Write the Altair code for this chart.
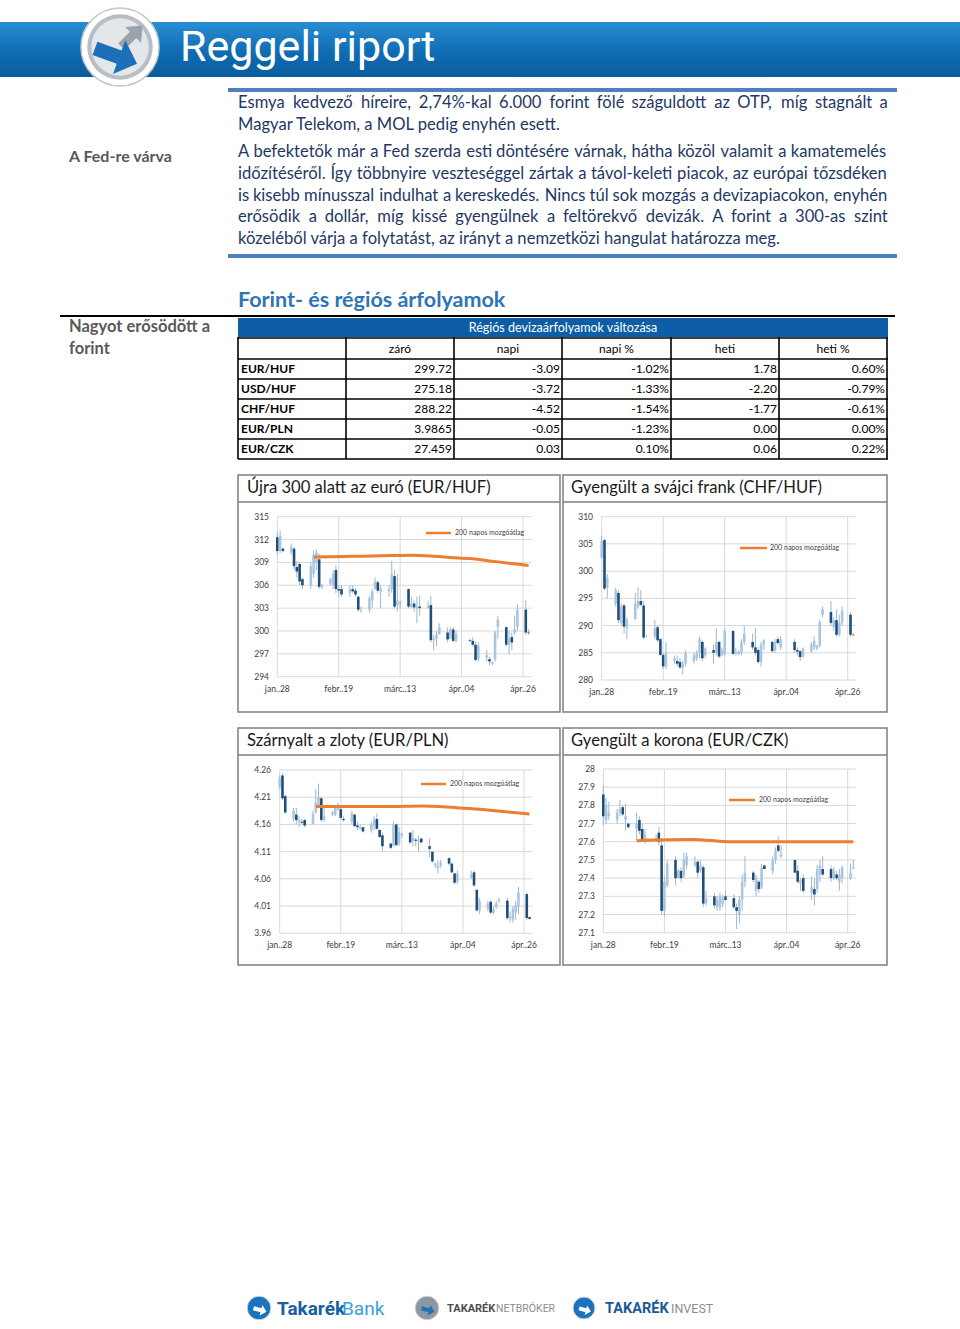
import altair as alt
import pandas as pd

FONT = "Lato"
DARK = "#1f4e79"
LIGHT = "#a9c6e0"
WICK = "#9fb7cd"
ORANGE = "#ed7d31"
GRID = "#d9d9d9"
NAVY_TXT = "#1f3864"
GRAY_TXT = "#595959"

# ---------------- data ----------------
trade_dates = (
    ["2015-01-%02d" % d for d in [28, 29, 30]]
    + ["2015-02-%02d" % d for d in [2, 3, 4, 5, 6, 9, 10, 11, 12, 13, 16, 17, 18, 19, 20, 23, 24, 25, 26, 27]]
    + ["2015-03-%02d" % d for d in [2, 3, 4, 5, 6, 9, 10, 11, 12, 13, 16, 17, 18, 19, 20, 23, 24, 25, 26, 27, 30, 31]]
    + ["2015-04-%02d" % d for d in [1, 2, 7, 8, 9, 10, 13, 14, 15, 16, 17, 20, 21, 22, 23, 24, 27, 28]]
)

xtick_dates = ["2015-01-28", "2015-02-19", "2015-03-13", "2015-04-04", "2015-04-26"]
xtick_labels = ["jan..28", "febr..19", "márc..13", "ápr..04", "ápr..26"]

eurhuf_open = [312.3,310.5,310.8,310.3,310.8,308.4,308.8,306.8,306.0,307.5,309.0,309.4,305.8,306.2,306.0,308.0,305.5,305.5,305.0,305.5,305.3,304.5,302.7,302.8,304.0,305.5,306.4,305.2,305.2,305.5,307.2,303.4,303.5,305.5,303.2,303.6,303.0,303.2,303.0,303.4,298.8,299.0,299.6,299.8,299.0,300.2,298.7,298.8,298.7,298.2,296.3,296.5,296.3,295.7,296.3,300.5,300.5,298.2,299.2,299.8,300.5,302.8,299.8]
eurhuf_high = [313.0,313.2,311.0,311.5,311.0,309.2,309.0,307.0,309.0,310.5,310.7,310.2,306.2,307.0,308.0,308.6,306.0,306.0,306.0,306.0,305.6,304.6,303.2,304.6,305.5,307.0,306.6,306.0,306.0,309.2,308.0,307.5,304.0,305.6,304.5,304.0,304.5,304.6,304.0,304.6,299.5,300.0,301.0,300.5,300.5,300.5,300.0,299.0,299.2,298.6,298.5,297.5,296.6,296.0,300.0,302.0,300.6,300.0,299.8,302.0,303.5,304.0,300.2]
eurhuf_low = [310.0,310.2,310.3,310.0,308.0,307.0,306.0,305.5,305.5,307.0,308.0,305.5,305.5,306.0,305.5,305.0,304.5,304.5,304.5,305.0,304.5,302.5,302.4,302.4,303.0,305.4,305.0,303.0,304.5,305.0,303.0,302.6,303.0,303.0,303.0,302.5,301.0,302.0,303.0,298.5,297.5,298.0,299.5,298.5,299.0,298.5,298.5,298.5,298.0,296.0,296.0,296.0,295.5,295.5,296.0,299.0,298.0,297.0,297.5,299.5,300.0,299.5,299.5]
eurhuf_close = [310.5,312.5,310.5,311.0,308.5,307.8,306.5,306.0,308.5,310.0,310.3,305.8,306.0,306.8,307.5,305.5,305.3,304.8,305.5,305.2,304.8,302.8,302.8,304.3,305.2,306.5,305.3,305.6,305.5,307.4,303.2,304.0,303.8,303.2,303.6,303.1,303.3,303.0,303.3,298.8,299.0,299.5,300.5,298.9,300.2,298.7,299.6,298.7,298.2,296.2,298.1,296.8,296.0,295.9,299.8,301.5,298.2,299.0,298.5,300.2,302.8,299.8,299.72]
eurhuf_ma_dates = ["2015-02-10","2015-02-17","2015-02-24","2015-03-03","2015-03-10","2015-03-17","2015-03-24","2015-03-31","2015-04-07","2015-04-14","2015-04-21","2015-04-28"]
eurhuf_ma = [309.7,309.75,309.8,309.85,309.9,309.95,309.85,309.65,309.5,309.2,308.9,308.6]

chfhuf_open = [302.5,305.7,297.0,294.0,296.0,290.5,293.7,289.5,291.2,293.5,294.5,293.7,288.0,288.0,289.7,287.5,284.6,282.5,283.5,283.5,283.3,282.3,283.0,283.5,284.0,285.0,287.0,284.5,285.5,285.0,287.0,284.5,284.7,289.0,284.8,284.8,285.0,287.0,287.0,286.0,285.5,283.3,286.5,287.0,285.5,287.5,286.0,287.0,285.5,285.3,284.3,285.3,286.0,285.8,286.3,292.0,292.5,289.7,291.0,288.3,290.5,292.0,288.3]
chfhuf_high = [306.5,306.0,299.5,297.0,296.5,294.0,294.0,291.5,296.0,297.0,296.5,294.5,288.3,291.0,290.0,287.7,285.0,287.0,284.5,284.5,284.0,283.5,285.5,285.0,285.5,288.0,287.2,286.0,286.5,289.5,287.2,286.0,289.5,289.2,286.0,285.5,287.5,290.0,288.5,289.5,286.0,287.0,287.5,287.2,287.5,288.0,288.0,287.5,286.0,285.5,286.0,287.0,288.0,286.5,291.0,293.5,294.5,291.5,293.0,292.0,293.5,292.5,288.6]
chfhuf_low = [302.3,296.5,295.0,293.5,290.5,290.0,288.5,287.5,291.0,293.0,293.5,287.5,287.8,287.5,287.0,284.5,282.0,282.0,283.0,282.5,282.0,281.0,282.5,283.0,283.5,284.0,283.5,284.0,283.0,284.5,284.0,284.5,284.5,284.5,284.5,284.5,284.5,286.5,285.5,284.5,283.0,282.5,285.5,285.0,285.0,286.5,285.5,285.0,284.5,283.5,284.0,285.0,285.5,285.5,286.0,291.5,290.0,289.0,288.0,288.0,290.0,288.0,288.1]
chfhuf_close = [305.5,296.8,298.8,296.5,291.0,293.5,289.8,291.0,294.0,294.5,293.8,287.8,288.0,289.5,287.3,284.6,282.5,285.0,284.0,283.0,282.3,283.0,285.0,284.5,285.0,287.5,284.0,285.8,285.0,287.0,284.3,285.5,289.0,284.8,285.2,285.2,287.0,288.5,286.0,285.0,283.3,286.5,287.3,285.3,287.0,286.8,287.5,285.5,285.2,284.2,285.8,286.5,287.2,286.3,290.7,293.0,290.5,291.0,288.3,290.5,292.7,288.3,288.22]

eurpln_open = [4.228,4.250,4.212,4.170,4.178,4.165,4.165,4.168,4.160,4.182,4.195,4.208,4.168,4.178,4.178,4.188,4.188,4.170,4.165,4.178,4.158,4.152,4.155,4.150,4.158,4.170,4.150,4.140,4.125,4.120,4.160,4.125,4.140,4.145,4.130,4.132,4.128,4.134,4.120,4.110,4.085,4.080,4.085,4.098,4.088,4.070,4.055,4.062,4.072,4.040,4.002,4.005,4.018,3.998,4.008,4.020,4.020,3.988,3.985,3.998,4.010,4.032,3.990]
eurpln_high = [4.250,4.255,4.215,4.190,4.190,4.175,4.170,4.170,4.185,4.225,4.235,4.210,4.190,4.185,4.195,4.200,4.190,4.175,4.185,4.180,4.165,4.160,4.155,4.165,4.175,4.180,4.150,4.145,4.125,4.165,4.160,4.155,4.145,4.145,4.150,4.135,4.140,4.135,4.135,4.110,4.090,4.095,4.095,4.100,4.090,4.070,4.075,4.075,4.075,4.040,4.025,4.020,4.020,4.010,4.020,4.025,4.025,4.000,4.010,4.020,4.045,4.035,3.990]
eurpln_low = [4.225,4.205,4.180,4.165,4.160,4.155,4.160,4.155,4.160,4.180,4.190,4.165,4.165,4.175,4.175,4.185,4.170,4.165,4.160,4.155,4.150,4.150,4.145,4.145,4.150,4.150,4.135,4.110,4.115,4.120,4.120,4.120,4.135,4.125,4.120,4.120,4.110,4.125,4.100,4.090,4.080,4.070,4.080,4.085,4.070,4.050,4.050,4.060,4.045,4.000,3.995,4.000,3.995,3.995,4.005,4.015,3.985,3.980,3.980,3.985,3.995,3.985,3.985]
eurpln_close = [4.245,4.208,4.182,4.185,4.168,4.168,4.163,4.158,4.180,4.200,4.210,4.168,4.175,4.182,4.190,4.195,4.172,4.168,4.180,4.157,4.155,4.155,4.147,4.160,4.168,4.152,4.137,4.120,4.117,4.160,4.122,4.145,4.143,4.127,4.135,4.130,4.132,4.127,4.115,4.092,4.088,4.085,4.090,4.088,4.072,4.053,4.070,4.068,4.048,4.002,4.020,4.015,3.998,4.005,4.015,4.022,3.988,3.990,4.005,4.012,4.035,3.988,3.9865]
eurpln_ma_dates = ["2015-02-10","2015-02-23","2015-03-09","2015-03-20","2015-04-01","2015-04-10","2015-04-20","2015-04-28"]
eurpln_ma = [4.193,4.193,4.193,4.194,4.191,4.188,4.183,4.179]

eurczk_open = [27.86,27.72,27.74,27.72,27.76,27.79,27.72,27.70,27.67,27.72,27.67,27.60,27.60,27.61,27.65,27.58,27.22,27.36,27.50,27.40,27.44,27.41,27.47,27.47,27.49,27.44,27.46,27.26,27.30,27.24,27.24,27.26,27.30,27.29,27.24,27.20,27.28,27.38,27.43,27.33,27.38,27.35,27.47,27.44,27.50,27.58,27.52,27.50,27.44,27.37,27.40,27.32,27.34,27.34,27.42,27.45,27.45,27.40,27.42,27.38,27.40,27.40,27.45]
eurczk_high = [27.91,27.84,27.82,27.78,27.83,27.80,27.81,27.70,27.76,27.74,27.70,27.67,27.62,27.64,27.68,27.62,27.41,27.50,27.52,27.45,27.46,27.54,27.54,27.52,27.50,27.50,27.47,27.33,27.32,27.30,27.32,27.31,27.33,27.31,27.26,27.30,27.42,27.52,27.44,27.42,27.39,27.48,27.47,27.52,27.57,27.63,27.58,27.50,27.47,27.40,27.42,27.41,27.40,27.47,27.50,27.52,27.47,27.46,27.44,27.45,27.47,27.48,27.50]
eurczk_low = [27.69,27.70,27.72,27.70,27.74,27.74,27.66,27.67,27.61,27.64,27.60,27.59,27.60,27.60,27.58,27.20,27.19,27.35,27.36,27.40,27.38,27.40,27.45,27.46,27.40,27.43,27.24,27.25,27.23,27.22,27.22,27.24,27.28,27.23,27.12,27.15,27.22,27.35,27.38,27.30,27.32,27.34,27.45,27.42,27.48,27.54,27.51,27.43,27.37,27.33,27.32,27.28,27.25,27.32,27.38,27.41,27.38,27.39,27.39,27.33,27.37,27.39,27.45]
eurczk_close = [27.74,27.80,27.76,27.76,27.78,27.75,27.74,27.68,27.70,27.66,27.61,27.64,27.61,27.62,27.60,27.22,27.38,27.48,27.40,27.44,27.40,27.50,27.52,27.49,27.43,27.47,27.26,27.29,27.25,27.28,27.30,27.29,27.28,27.24,27.22,27.28,27.38,27.43,27.39,27.40,27.34,27.46,27.45,27.50,27.55,27.55,27.53,27.43,27.38,27.39,27.33,27.35,27.31,27.45,27.47,27.42,27.40,27.44,27.40,27.42,27.46,27.43,27.459]
eurczk_ma_dates = ["2015-02-09","2015-02-16","2015-03-02","2015-03-09","2015-03-16","2015-04-01","2015-04-15","2015-04-28"]
eurczk_ma = [27.605,27.61,27.612,27.605,27.6,27.6,27.6,27.6]

table_pairs = ["EUR/HUF", "USD/HUF", "CHF/HUF", "EUR/PLN", "EUR/CZK"]
table_cols = ["záró", "napi", "napi %", "heti", "heti %"]
table_zaro = ["299.72", "275.18", "288.22", "3.9865", "27.459"]
table_napi = ["-3.09", "-3.72", "-4.52", "-0.05", "0.03"]
table_napi_pct = ["-1.02%", "-1.33%", "-1.54%", "-1.23%", "0.10%"]
table_heti = ["1.78", "-2.20", "-1.77", "0.00", "0.06"]
table_heti_pct = ["0.60%", "-0.79%", "-0.61%", "0.00%", "0.22%"]

para_lines = [
    "Esmya kedvező híreire, 2,74%-kal 6.000 forint fölé száguldott az OTP, míg stagnált a",
    "Magyar Telekom, a MOL pedig enyhén esett.",
    "A befektetők már a Fed szerda esti döntésére várnak, hátha közöl valamit a kamatemelés",
    "időzítéséről. Így többnyire veszteséggel zártak a távol-keleti piacok, az európai tőzsdéken",
    "is kisebb mínusszal indulhat a kereskedés. Nincs túl sok mozgás a devizapiacokon, enyhén",
    "erősödik a dollár, míg kissé gyengülnek a feltörekvő devizák. A forint a 300-as szint",
    "közeléből várja a folytatást, az irányt a nemzetközi hangulat határozza meg.",
]
para_justify = [True, False, True, True, True, True, False]

for arr in [eurhuf_open, eurhuf_high, eurhuf_low, eurhuf_close, chfhuf_open, chfhuf_high, chfhuf_low,
            chfhuf_close, eurpln_open, eurpln_high, eurpln_low, eurpln_close, eurczk_open, eurczk_high,
            eurczk_low, eurczk_close]:
    assert len(arr) == len(trade_dates), len(arr)

# approximate advance widths (em) of the text font, used only to justify paragraph lines
CHAR_W = {}
for chars, w in [("aáà", .49), ("b", .55), ("c", .46), ("d", .55), ("eé", .51), ("f", .32), ("g", .50),
                 ("h", .55), ("iíj", .23), ("k", .50), ("l", .23), ("m", .83), ("n", .55), ("oóöő", .55),
                 ("pq", .55), ("r", .36), ("s", .42), ("t", .34), ("uúüű", .55), ("v", .50), ("w", .76),
                 ("x", .49), ("y", .50), ("z", .44), ("A", .65), ("B", .62), ("C", .66), ("D", .73),
                 ("E", .55), ("F", .53), ("G", .70), ("H", .74), ("IÍ", .28), ("J", .40), ("K", .64),
                 ("L", .49), ("M", .89), ("N", .74), ("O", .78), ("P", .58), ("Q", .78), ("R", .61),
                 ("S", .52), ("T", .58), ("U", .72), ("V", .65), ("W", .97), ("X", .63), ("Y", .60),
                 ("Z", .59), ("0123456789", .58), (",.", .21), ("-", .34), ("%", .75), ("()", .31)]:
    for ch in chars:
        CHAR_W[ch] = w


def word_w(word, fs):
    return sum(CHAR_W.get(ch, .55) for ch in word) * fs * 1.034


# ---------------- helpers (pixel decorations) ----------------
def px_text(rows, align="left", weight="normal", font=FONT):
    df = pd.DataFrame(rows, columns=["x", "y", "t", "s", "c"])
    return alt.Chart(df).mark_text(align=align, baseline="middle", font=font, fontWeight=weight).encode(
        x=alt.X("x:Q", scale=None), y=alt.Y("y:Q", scale=None), text="t:N",
        size=alt.Size("s:Q", scale=None, legend=None),
        color=alt.Color("c:N", scale=None, legend=None))


def px_rules(rows):
    df = pd.DataFrame(rows, columns=["x", "y", "x2", "y2", "c", "w"])
    return alt.Chart(df).mark_rule(strokeCap="butt").encode(
        x=alt.X("x:Q", scale=None), x2=alt.X2("x2"), y=alt.Y("y:Q", scale=None), y2=alt.Y2("y2"),
        color=alt.Color("c:N", scale=None, legend=None),
        strokeWidth=alt.StrokeWidth("w:Q", scale=None, legend=None))


def px_rects(rows):
    df = pd.DataFrame(rows, columns=["x", "y", "x2", "y2", "c"])
    return alt.Chart(df).mark_rect().encode(
        x=alt.X("x:Q", scale=None), x2=alt.X2("x2"), y=alt.Y("y:Q", scale=None), y2=alt.Y2("y2"),
        color=alt.Color("c:N", scale=None, legend=None))


def px_boxes(rows, stroke="#7f7f7f", width=1.5):
    df = pd.DataFrame(rows, columns=["x", "y", "x2", "y2"])
    return alt.Chart(df).mark_rect(fillOpacity=0, stroke=stroke, strokeWidth=width).encode(
        x=alt.X("x:Q", scale=None), x2=alt.X2("x2"), y=alt.Y("y:Q", scale=None), y2=alt.Y2("y2"))


def px_points(rows, shape="circle", angle=0, stroke_c=None, sw=0):
    df = pd.DataFrame(rows, columns=["x", "y", "s", "c"])
    kw = dict(filled=True, shape=shape, opacity=1, angle=angle)
    if stroke_c:
        kw.update(stroke=stroke_c, strokeWidth=sw)
    return alt.Chart(df).mark_point(**kw).encode(
        x=alt.X("x:Q", scale=None), y=alt.Y("y:Q", scale=None),
        size=alt.Size("s:Q", scale=None, legend=None),
        fill=alt.Fill("c:N", scale=None, legend=None))


D0 = alt.DateTime(year=2015, month=1, date=28, utc=True)
D1 = alt.DateTime(year=2015, month=4, date=26, utc=True)


def panel(o, h, l, c, ma_d, ma_v, yticks, ylabels, ydom, xr, yr, lab_x, xlab_y):
    df = pd.DataFrame({"d": trade_dates, "o": o, "h": h, "l": l, "c": c})
    df["dir"] = ["down" if cc < oo else "up" for oo, cc in zip(o, c)]
    xs = alt.Scale(type="utc", domain=[D0, D1], range=xr)
    ys = alt.Scale(domain=ydom, range=yr, zero=False, nice=False)
    n = len(yticks)
    gh = pd.DataFrame({"v": yticks, "a": ["2015-01-28"] * n, "b": ["2015-04-29"] * n, "lab": ylabels})
    gv = pd.DataFrame({"d": xtick_dates, "lab": xtick_labels,
                       "y0": [ydom[0]] * len(xtick_dates), "y1": [ydom[1]] * len(xtick_dates)})
    hgrid = alt.Chart(gh).mark_rule(color=GRID, strokeWidth=1).encode(
        x=alt.X("a:T", scale=xs, axis=None), x2=alt.X2("b"), y=alt.Y("v:Q", scale=ys, axis=None))
    vgrid = alt.Chart(gv).mark_rule(color=GRID, strokeWidth=1).encode(
        x=alt.X("d:T", scale=xs, axis=None), y=alt.Y("y0:Q", scale=ys, axis=None), y2=alt.Y2("y1"))
    wick = alt.Chart(df).mark_rule(color=WICK, strokeWidth=1).encode(
        x=alt.X("d:T", scale=xs, axis=None), y=alt.Y("l:Q", scale=ys, axis=None), y2=alt.Y2("h"))
    body = alt.Chart(df).mark_rule(strokeWidth=2.6, strokeCap="butt").encode(
        x=alt.X("d:T", scale=xs, axis=None), y=alt.Y("o:Q", scale=ys, axis=None), y2=alt.Y2("c"),
        color=alt.Color("dir:N", scale=alt.Scale(domain=["down", "up"], range=[DARK, LIGHT]), legend=None))
    layers = [hgrid, vgrid, wick, body]
    if ma_d:
        ma = alt.Chart(pd.DataFrame({"d": ma_d, "v": ma_v})).mark_line(
            color=ORANGE, strokeWidth=3, interpolate="monotone").encode(
            x=alt.X("d:T", scale=xs, axis=None), y=alt.Y("v:Q", scale=ys, axis=None))
        layers.append(ma)
    ylab = alt.Chart(gh).mark_text(align="right", baseline="middle", font=FONT, fontSize=8.5,
                                   color="#404040").encode(
        x=alt.value(lab_x), y=alt.Y("v:Q", scale=ys, axis=None), text="lab:N")
    xlab = alt.Chart(gv).mark_text(align="center", baseline="middle", font=FONT, fontSize=8.5,
                                   color="#404040").encode(
        x=alt.X("d:T", scale=xs, axis=None), y=alt.value(xlab_y), text="lab:N")
    layers += [ylab, xlab]
    return alt.layer(*layers)


layers = []

# ---------------- header ----------------
banner_df = pd.DataFrame({"x": [0], "x2": [960], "y": [22], "y2": [77]})
banner = alt.Chart(banner_df).mark_rect(
    fill=alt.LinearGradient(gradient="linear", x1=0, x2=0, y1=0, y2=1,
                            stops=[alt.GradientStop(color="#2a8dd3", offset=0),
                                   alt.GradientStop(color="#0f6cb2", offset=0.55),
                                   alt.GradientStop(color="#0a5d9e", offset=1)])).encode(
    x=alt.X("x:Q", scale=None), x2=alt.X2("x2"), y=alt.Y("y:Q", scale=None), y2=alt.Y2("y2"))
layers.append(banner)
layers.append(px_points([[120, 47, 6100, "#ffffff"]], stroke_c="#c3c6ca", sw=1.5))
layers.append(px_points([[120, 47, 4300, "#b7bec5"]]))
layers.append(px_points([[120, 47, 3300, "#e4e7ea"]]))
layers.append(px_points([[132, 36, 900, "#9aa3ab"]],
                        shape="M-1,-0.3L0.1,-0.3L0.1,-0.75L1,0L0.1,0.75L0.1,0.3L-1,0.3Z", angle=315))
layers.append(px_points([[116, 56, 2000, "#1d6fb8"]],
                        shape="M-1,-0.32L0.15,-0.32L0.15,-0.8L1,0L0.15,0.8L0.15,0.32L-1,0.32Z", angle=20))
layers.append(px_text([[180, 48, "Reggeli riport", 43, "#ffffff"]], font="Roboto"))

# blue separators around the paragraph
layers.append(px_rules([
    [228, 90, 897, 90, "#4f7fbd", 4],
    [228, 256, 897, 256, "#4f7fbd", 4],
    [60, 316, 895, 316, "#000000", 2],
]))

# left labels
layers.append(px_text([
    [69, 157, "A Fed-re várva", 16, GRAY_TXT],
    [69, 327, "Nagyot erősödött a", 16.5, GRAY_TXT],
    [69, 349, "forint", 16.5, GRAY_TXT],
], weight="bold"))

# paragraph (justified lines are laid out word by word between x=238 and x=888)
PARA_FS = 16.6
para_y = [103, 125, 152, 174, 196, 217, 239]
word_rows = []
for yy, line, just in zip(para_y, para_lines, para_justify):
    if not just:
        word_rows.append([238.0, yy, line, PARA_FS, NAVY_TXT])
        continue
    words = line.split(" ")
    ws = [word_w(w, PARA_FS) for w in words]
    gap = (650 - sum(ws)) / (len(words) - 1)
    xx = 238.0
    for w, wd in zip(words, ws):
        word_rows.append([xx, yy, w, PARA_FS, NAVY_TXT])
        xx += wd + gap
layers.append(px_text(word_rows))

# section title
layers.append(px_text([[238, 301, "Forint- és régiós árfolyamok", 21.5, "#2e75b6"]], weight="bold"))

# ---------------- table ----------------
col_x = [238, 346, 454, 562, 671, 779, 887]
row_y = [338, 359, 379, 399, 419, 439, 459]
layers.append(px_rects([[238, 318, 888, 337, "#0d5ea6"]]))
layers.append(px_text([[563, 327.5, "Régiós devizaárfolyamok változása", 12.5, "#ffffff"]], align="center"))
layers.append(px_text([[(col_x[i + 1] + col_x[i + 2]) / 2, 348.5, table_cols[i], 12, "#000000"]
                       for i in range(5)], align="center"))
tab_rules = [[238, yy, 888, yy, "#000000", 1.6] for yy in row_y]
tab_rules += [[xx, 337, xx, 459, "#000000", 1.6] for xx in col_x]
layers.append(px_rules(tab_rules))
layers.append(px_text([[241, (row_y[i + 1] + row_y[i + 2]) / 2, p, 12, "#000000"]
                       for i, p in enumerate(table_pairs)], weight="bold"))
vals = []
for ci, colv in enumerate([table_zaro, table_napi, table_napi_pct, table_heti, table_heti_pct]):
    for ri, v in enumerate(colv):
        vals.append([col_x[ci + 2] - 2, (row_y[ri + 1] + row_y[ri + 2]) / 2, v, 12, "#000000"])
layers.append(px_text(vals, align="right"))

# ---------------- chart frames ----------------
layers.append(px_boxes([
    [238, 475, 560, 712], [563, 475, 887, 712],
    [238, 728, 560, 965], [563, 728, 887, 965],
]))
layers.append(px_rules([
    [238, 502, 560, 502, "#7f7f7f", 1.5], [563, 502, 887, 502, "#7f7f7f", 1.5],
    [238, 755, 560, 755, "#7f7f7f", 1.5], [563, 755, 887, 755, "#7f7f7f", 1.5],
]))
layers.append(px_text([
    [247, 488, "Újra 300 alatt az euró (EUR/HUF)", 16.6, "#1a1a1a"],
    [571, 488, "Gyengült a svájci frank (CHF/HUF)", 16.6, "#1a1a1a"],
    [247, 741, "Szárnyalt a zloty (EUR/PLN)", 16.6, "#1a1a1a"],
    [571, 741, "Gyengült a korona (EUR/CZK)", 16.6, "#1a1a1a"],
]))

# ---------------- candlestick panels ----------------
layers.append(panel(eurhuf_open, eurhuf_high, eurhuf_low, eurhuf_close, eurhuf_ma_dates, eurhuf_ma,
                    [294, 297, 300, 303, 306, 309, 312, 315],
                    ["294", "297", "300", "303", "306", "309", "312", "315"],
                    [294, 315], [277.3, 523], [676.7, 516.7], 269, 689))
layers.append(panel(chfhuf_open, chfhuf_high, chfhuf_low, chfhuf_close, None, None,
                    [280, 285, 290, 295, 300, 305, 310],
                    ["280", "285", "290", "295", "300", "305", "310"],
                    [280, 310], [601.7, 847.7], [680, 516.7], 593, 692))
layers.append(panel(eurpln_open, eurpln_high, eurpln_low, eurpln_close, eurpln_ma_dates, eurpln_ma,
                    [3.96, 4.01, 4.06, 4.11, 4.16, 4.21, 4.26],
                    ["3.96", "4.01", "4.06", "4.11", "4.16", "4.21", "4.26"],
                    [3.96, 4.26], [279.7, 524], [933.3, 770], 271, 945))
layers.append(panel(eurczk_open, eurczk_high, eurczk_low, eurczk_close, eurczk_ma_dates, eurczk_ma,
                    [27.1, 27.2, 27.3, 27.4, 27.5, 27.6, 27.7, 27.8, 27.9, 28.0],
                    ["27.1", "27.2", "27.3", "27.4", "27.5", "27.6", "27.7", "27.8", "27.9", "28"],
                    [27.1, 28.0], [603.3, 847.7], [932.7, 769], 595, 945))

# legends inside panels
layers.append(px_rules([
    [426, 533, 451, 533, ORANGE, 2.5], [740, 548, 767, 548, ORANGE, 2.5],
    [421, 784, 446, 784, ORANGE, 2.5], [729, 800, 755, 800, ORANGE, 2.5],
]))
layers.append(px_text([
    [455, 533, "200 napos mozgóátlag", 7, "#404040"],
    [770, 548, "200 napos mozgóátlag", 7, "#404040"],
    [450, 784, "200 napos mozgóátlag", 7, "#404040"],
    [759, 800, "200 napos mozgóátlag", 7, "#404040"],
]))

# ---------------- footer logos ----------------
layers.append(px_points([[259, 1308, 560, "#1b74bb"], [427, 1308, 560, "#8f979f"], [584, 1308, 480, "#1b74bb"]],
                        stroke_c="#d0d5da", sw=1))
layers.append(px_points([[260, 1310, 180, "#ffffff"], [428, 1310, 180, "#1b74bb"], [585, 1310, 150, "#ffffff"]],
                        shape="M-1,-0.32L0.15,-0.32L0.15,-0.8L1,0L0.15,0.8L0.15,0.32L-1,0.32Z", angle=15))
layers.append(px_text([
    [277, 1309, "Takarék", 19, "#1b5fa3"],
    [447, 1309, "TAKARÉK", 11, "#4d4d4d"],
    [605, 1309, "TAKARÉK", 14.5, "#1b5a96"],
], weight="bold", font="Roboto"))
layers.append(px_text([
    [342, 1309, "Bank", 19, "#3aa0dc"],
    [496, 1309, "NETBRÓKER", 10.5, "#8c8c8c"],
    [671, 1309, "INVEST", 12.5, "#8c8c8c"],
], font="Roboto"))

chart = alt.layer(*layers).resolve_scale(
    x="independent", y="independent", color="independent", size="independent",
    strokeWidth="independent", fill="independent"
).properties(
    width=960, height=1329, autosize=alt.AutoSizeParams(type="none"), padding=0, background="white"
).configure_view(stroke=None)

chart.save("out.html", embed_options={"renderer": "svg", "actions": False})
